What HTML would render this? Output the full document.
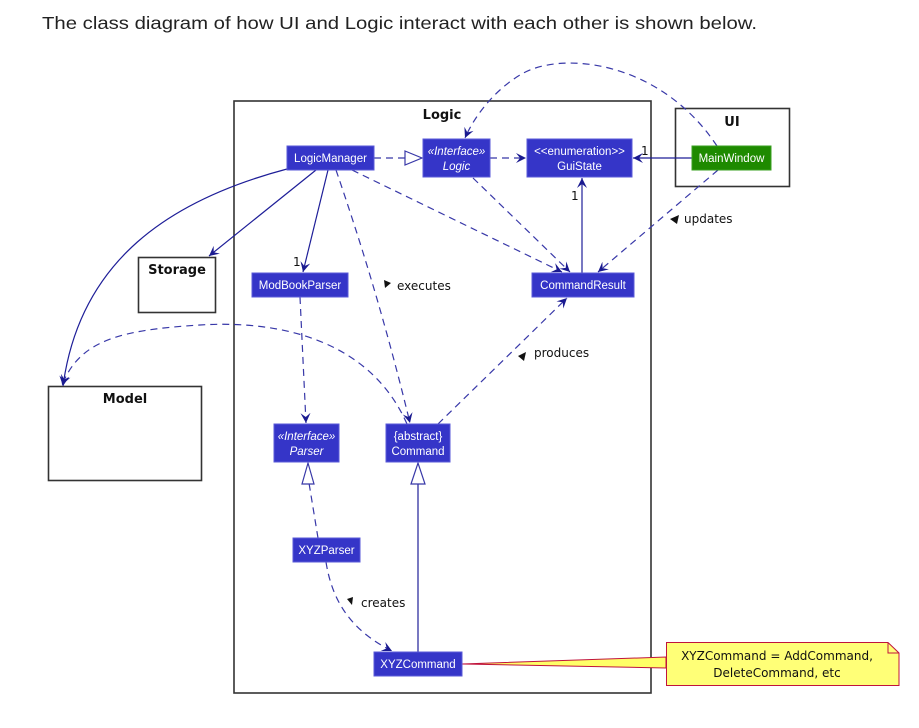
<!DOCTYPE html>
<html><head><meta charset="utf-8"><style>
html,body{margin:0;padding:0;background:#fff;width:919px;height:728px;overflow:hidden}
svg{display:block}
.t{font-family:"Liberation Sans",sans-serif}
.cls{fill:#3535c8;stroke:#5a5ad8;stroke-width:1}
.ct{fill:#fff;font-family:"Liberation Sans",sans-serif;font-size:11.5px;text-anchor:middle}
.pk{fill:none;stroke:#333;stroke-width:1.6}
.pt{font-family:"DejaVu Sans",sans-serif;font-weight:bold;font-size:13px;text-anchor:middle;fill:#111}
.d{fill:none;stroke:#3838a8;stroke-width:1.2;stroke-dasharray:7,5}
.s{fill:none;stroke:#1e1e98;stroke-width:1.2}
.lb{font-family:"DejaVu Sans",sans-serif;font-size:12px;fill:#111}
</style></head><body>
<svg width="919" height="728" viewBox="0 0 919 728" xmlns="http://www.w3.org/2000/svg">
<defs>
<marker id="a" markerWidth="12" markerHeight="10" refX="10" refY="5" orient="auto" markerUnits="userSpaceOnUse">
<path d="M0,0 L10,5 L0,10 L4,5 z" fill="#1a1a90"/></marker>
</defs>
<text x="42" y="29" class="t" font-size="17.5" fill="#222" textLength="715" lengthAdjust="spacingAndGlyphs">The class diagram of how UI and Logic interact with each other is shown below.</text>

<!-- packages -->
<rect x="234" y="101" width="417" height="592" class="pk"/>
<text x="442" y="119" class="pt">Logic</text>
<rect x="675.5" y="108.5" width="114" height="78" class="pk"/>
<text x="732" y="126" class="pt">UI</text>
<rect x="138.5" y="257.5" width="77" height="55" class="pk"/>
<text x="177" y="274" class="pt">Storage</text>
<rect x="48.5" y="386.5" width="153" height="94" class="pk"/>
<text x="125" y="403" class="pt">Model</text>

<!-- connectors -->
<line x1="374" y1="158" x2="405" y2="158" class="d"/>
<path d="M405,151 L422,158 L405,165 z" fill="#fff" stroke="#3838a8" stroke-width="1.2"/>
<line x1="490" y1="158" x2="526" y2="158" class="d" marker-end="url(#a)"/>
<line x1="692" y1="158" x2="633" y2="158" class="s" marker-end="url(#a)"/>
<text x="641" y="155" class="lb">1</text>
<line x1="582" y1="273" x2="582" y2="178" class="s" marker-end="url(#a)"/>
<text x="571" y="200" class="lb">1</text>
<path d="M717,146 C660,60 560,50 520,75 C495,90 475,115 465,138" class="d" marker-end="url(#a)"/>
<line x1="718" y1="170" x2="598" y2="272" class="d" marker-end="url(#a)"/>
<path d="M679,215 l-9,4 l7,5 z" fill="#111"/>
<text x="684" y="223" class="lb">updates</text>
<line x1="473" y1="178" x2="570" y2="272" class="d" marker-end="url(#a)"/>
<line x1="352" y1="170" x2="562" y2="272" class="d" marker-end="url(#a)"/>
<line x1="316" y1="170" x2="209" y2="256" class="s" marker-end="url(#a)"/>
<path d="M287,169 C170,200 80,260 63,386" class="s" marker-end="url(#a)"/>
<line x1="328" y1="170" x2="303" y2="272" class="s" marker-end="url(#a)"/>
<text x="293" y="266" class="lb">1</text>
<path d="M336,170 C360,240 385,320 410,423" class="d" marker-end="url(#a)"/>
<path d="M384,280 l7,3 l-6,5 z" fill="#111"/>
<text x="397" y="290" class="lb">executes</text>
<line x1="300" y1="297" x2="306" y2="423" class="d" marker-end="url(#a)"/>
<path d="M407,424 C370,340 280,320 200,325 C120,330 80,340 62,385" class="d" marker-end="url(#a)"/>
<line x1="438" y1="424" x2="567" y2="298" class="d" marker-end="url(#a)"/>
<path d="M526,352 l-8,4 l6,5 z" fill="#111"/>
<text x="534" y="357" class="lb">produces</text>
<line x1="318" y1="538" x2="309" y2="483" class="d"/>
<path d="M302,484 L308,463 L314,484 z" fill="#fff" stroke="#3838a8" stroke-width="1.2"/>
<line x1="418" y1="652" x2="418" y2="484" class="s"/>
<path d="M411,484 L418,463 L425,484 z" fill="#fff" stroke="#3838a8" stroke-width="1.2"/>
<path d="M326,562 C332,600 350,630 392,651" class="d" marker-end="url(#a)"/>
<path d="M347,599 l6,-2 l-1,8 z" fill="#111"/>
<text x="361" y="607" class="lb">creates</text>

<!-- note connector -->
<path d="M462,664 L666,657 L666,668 z" fill="#ffff66" stroke="#c0143c" stroke-width="1"/>
<path d="M666.5,642.5 H888 L899,653 V685.5 H666.5 Z" fill="#ffff77" stroke="#c0143c" stroke-width="1"/>
<path d="M888,642.5 V653 H899" fill="none" stroke="#c0143c" stroke-width="1"/>
<text x="777" y="660" class="lb" text-anchor="middle">XYZCommand = AddCommand,</text>
<text x="777" y="677" class="lb" text-anchor="middle">DeleteCommand, etc</text>

<!-- classes -->
<rect x="287" y="146" width="87" height="24" class="cls"/><text x="330.5" y="162" class="ct">LogicManager</text>
<rect x="423" y="139" width="67" height="38" class="cls"/><text x="456.5" y="155" class="ct" font-style="italic">«Interface»</text><text x="456.5" y="170" class="ct" font-style="italic">Logic</text>
<rect x="527" y="139" width="105" height="38" class="cls"/><text x="579.5" y="155" class="ct">&lt;&lt;enumeration&gt;&gt;</text><text x="579.5" y="170" class="ct">GuiState</text>
<rect x="692" y="146" width="79" height="24" fill="#1e8a00" stroke="#3aa020"/><text x="731.5" y="162" class="ct">MainWindow</text>
<rect x="252" y="273" width="96" height="24" class="cls"/><text x="300" y="289" class="ct">ModBookParser</text>
<rect x="532" y="273" width="102" height="24" class="cls"/><text x="583" y="289" class="ct">CommandResult</text>
<rect x="274" y="424" width="65" height="38" class="cls"/><text x="306.5" y="440" class="ct" font-style="italic">«Interface»</text><text x="306.5" y="455" class="ct" font-style="italic">Parser</text>
<rect x="386" y="424" width="64" height="38" class="cls"/><text x="418" y="440" class="ct">{abstract}</text><text x="418" y="455" class="ct">Command</text>
<rect x="293" y="538" width="67" height="24" class="cls"/><text x="326.5" y="554" class="ct">XYZParser</text>
<rect x="374" y="652" width="88" height="24" class="cls"/><text x="418" y="668" class="ct">XYZCommand</text>
</svg>
</body></html>
